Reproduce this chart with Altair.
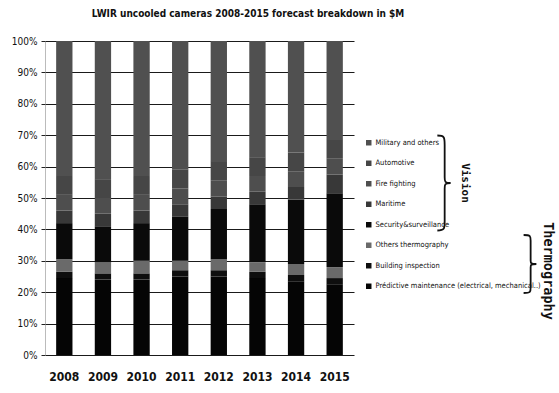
import altair as alt
import pandas as pd

# Years on the x axis
years = ["2008", "2009", "2010", "2011", "2012", "2013", "2014", "2015"]

# Market share per segment (%), stacked bottom to top
predictive = [24.5, 24.0, 24.0, 25.0, 25.0, 24.5, 23.5, 22.5]
building = [2.0, 2.0, 2.0, 2.0, 2.0, 2.0, 2.0, 2.0]
others_thermo = [4.0, 3.5, 4.0, 3.0, 3.5, 3.0, 3.5, 3.5]
security = [11.5, 11.5, 12.0, 14.0, 16.0, 18.5, 20.5, 23.5]
maritime = [4.0, 4.0, 4.0, 4.0, 4.0, 4.0, 4.0, 6.0]
fire = [5.0, 5.0, 5.0, 5.0, 5.0, 5.0, 5.0, 5.0]
automotive = [6.0, 6.0, 6.0, 6.0, 6.0, 6.0, 6.0, 6.0]
military = [43.0, 44.0, 43.0, 41.0, 38.5, 37.0, 35.5, 31.5]

# Segment names, bottom of the stack first
segments = [
    "Prédictive maintenance (electrical, mechanical..)",
    "Building inspection",
    "Others thermography",
    "Security&surveillance",
    "Maritime",
    "Fire fighting",
    "Automotive",
    "Military and others",
]
series = [predictive, building, others_thermo, security, maritime, fire, automotive, military]
grays = ["#050505", "#0e0e0e", "#6a6a6a", "#0a0a0a", "#383838", "#4e4e4e", "#464646", "#505050"]

rows = []
for idx, (name, vals) in enumerate(zip(segments, series)):
    for yr, v in zip(years, vals):
        rows.append({"year": yr, "segment": name, "share": v, "idx": idx})
df = pd.DataFrame(rows)

COND = "DejaVu Sans Condensed, sans-serif"
MONO = "DejaVu Sans Mono, monospace"

bars = alt.Chart(df).mark_bar(width={"band": 0.65}).encode(
    x=alt.X(
        "year:N",
        sort=years,
        title=None,
        scale=alt.Scale(paddingInner=0.35, paddingOuter=0.175),
        axis=alt.Axis(
            labelAngle=0, labelFont=COND, labelFontWeight="bold", labelFontSize=12,
            labelColor="#111", labelPadding=16, ticks=False, domain=False, grid=False,
        ),
    ),
    y=alt.Y(
        "share:Q",
        stack="normalize",
        title=None,
        scale=alt.Scale(domain=[0, 1]),
        axis=alt.Axis(
            format=".0%", values=[i / 10 for i in range(11)], labelFont=COND,
            labelFontSize=10, labelColor="#111", labelPadding=4, tickSize=4,
            tickColor="#222", domainColor="#777", domainDash=[1, 1],
            gridColor="#1a1a1a", gridWidth=1.2, gridOpacity=1,
        ),
    ),
    color=alt.Color(
        "segment:N",
        scale=alt.Scale(domain=segments[::-1], range=grays[::-1]),
        legend=alt.Legend(
            title=None, orient="none", legendX=320, legendY=98, padding=0,
            symbolType="square", symbolSize=30, symbolStrokeWidth=0,
            labelFont=COND, labelFontSize=7.5, labelColor="#111",
            rowPadding=11.5, labelOffset=3, labelLimit=260,
        ),
    ),
    order=alt.Order("idx:Q", sort="ascending"),
)

title = alt.Chart(pd.DataFrame({"t": ["LWIR uncooled cameras 2008-2015 forecast breakdown in $M"]})).mark_text(
    font=COND, fontWeight="bold", fontSize=10, color="#111", align="center", baseline="middle"
).encode(text="t:N", x=alt.value(203), y=alt.value(-27))


def brace_path(half_w):
    # right-pointing curly brace, drawn in the unit symbol box
    a = -half_w
    b = half_w * 0.1
    c = half_w
    return (
        f"M {a} -1 C {b} -1 {b} -0.96 {b} -0.8 L {b} -0.12 "
        f"C {b} -0.03 {b} 0 {c} 0 C {b} 0 {b} 0.03 {b} 0.12 "
        f"L {b} 0.8 C {b} 0.96 {b} 1 {a} 1"
    )


one = pd.DataFrame({"k": [0]})
vision_brace = alt.Chart(one).mark_point(
    shape=brace_path(0.14), filled=False, stroke="#111", strokeWidth=1.8, opacity=1
).encode(x=alt.value(399), y=alt.value(142), size=alt.value(9025))
thermo_brace = alt.Chart(one).mark_point(
    shape=brace_path(0.22), filled=False, stroke="#111", strokeWidth=1.8, opacity=1
).encode(x=alt.value(485), y=alt.value(223), size=alt.value(3364))

groups = pd.DataFrame({"g": ["Vision"]})
vision_txt = alt.Chart(groups).mark_text(
    font=MONO, fontWeight="bold", fontSize=11, angle=90, color="#111"
).encode(text="g:N", x=alt.value(420), y=alt.value(142))
groups2 = pd.DataFrame({"g": ["Thermography"]})
thermo_txt = alt.Chart(groups2).mark_text(
    font=MONO, fontWeight="bold", fontSize=13.5, angle=90, color="#111"
).encode(text="g:N", x=alt.value(503), y=alt.value(230))

chart = alt.layer(bars, title, vision_brace, thermo_brace, vision_txt, thermo_txt).properties(
    width=309,
    height=314,
    autosize=alt.AutoSizeParams(type="none"),
    padding={"left": 45, "top": 41, "right": 205, "bottom": 38},
    background="white",
).configure_view(stroke=None)

chart.save("out.html", embed_options={"renderer": "svg", "actions": False})
